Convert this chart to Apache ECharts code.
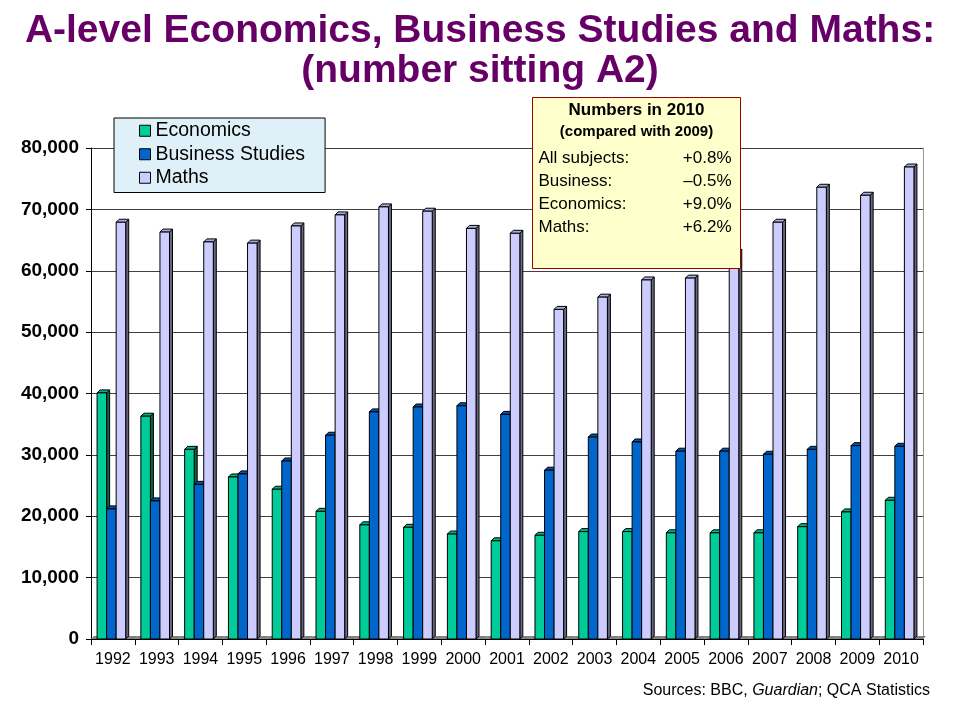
<!DOCTYPE html>
<html><head><meta charset="utf-8">
<script src="https://cdn.jsdelivr.net/npm/echarts@6/dist/echarts.min.js"></script>
<style>html,body{margin:0;padding:0;background:#fff}#c{width:960px;height:720px}</style>
</head><body><div id="c"></div>
<script>
const years = ['1992','1993','1994','1995','1996','1997','1998','1999','2000','2001','2002','2003','2004','2005','2006','2007','2008','2009','2010'];
const economics = [40100,36300,30900,26400,24400,20800,18600,18200,17100,16000,16900,17500,17500,17300,17300,17300,18300,20700,22600];
const business = [21200,22500,25200,26900,29000,33200,37000,37800,38000,36600,27500,32900,32100,30600,30600,30100,30900,31500,31400];
const maths = [67900,66300,64700,64500,67300,69100,70400,69700,66900,66100,53700,55700,58500,58800,63000,67900,73600,72300,76900];
const seriesNames = ['Economics','Business Studies','Maths'];
const boxTitle = 'Numbers in 2010';
const boxSub = '(compared with 2009)';
const boxLabels = ['All subjects:','Business:','Economics:','Maths:'];
const boxValues = ['+0.8%','\u20130.5%','+9.0%','+6.2%'];

const FONT = 'Liberation Sans, Arial, sans-serif';
const styles = [
  {face:'#00CC99', side:'#006644', top:'#00B386'},
  {face:'#0066CC', side:'#003366', top:'#0055AA'},
  {face:'#CCCCFF', side:'#666680', top:'#AAAADD'}
];

function make3D(idx, name, values, drawFloor) {
  const st = styles[idx];
  return {
    type: 'custom', name: name,
    itemStyle: {color: st.face},
    data: values.map((v, i) => [i, v]),
    encode: {x: 0, y: 1},
    renderItem: function (params, api) {
      const i = api.value(0), v = api.value(1);
      const band = api.size([1, 0])[0];
      const w = band * 0.218;
      const base = api.coord([i, 0]);
      const tp = api.coord([i, v]);
      const cx = base[0] - 1.5;
      const x0 = cx - 1.5 * w + idx * w, x1 = x0 + w;
      const yT = tp[1], yB = base[1];
      const d = 3;
      const ch = [];
      if (drawFloor) {
        const l = base[0] - band / 2, r = base[0] + band / 2;
        ch.push({type: 'polygon', silent: true,
          shape: {points: [[l, yB], [r, yB], [r + d, yB - d], [l + d, yB - d]]},
          style: {fill: '#808080'}});
      }
      ch.push({type: 'polygon', shape: {points: [[x1, yB], [x1 + d, yB - d], [x1 + d, yT - d], [x1, yT]]},
        style: {fill: st.side, stroke: '#000', lineWidth: 1}});
      ch.push({type: 'polygon', shape: {points: [[x0, yT], [x1, yT], [x1 + d, yT - d], [x0 + d, yT - d]]},
        style: {fill: st.top, stroke: '#000', lineWidth: 1}});
      ch.push({type: 'rect', shape: {x: x0, y: yT, width: w, height: yB - yT},
        style: {fill: st.face, stroke: '#000', lineWidth: 1}});
      return {type: 'group', children: ch};
    }
  };
}

const chart = echarts.init(document.getElementById('c'));
const boxLeft = 532, boxTop = 97;
const boxChildren = [
  {type: 'rect', z: 100, shape: {x: 0, y: 0, width: 208, height: 171},
   style: {fill: '#FFFFCC', stroke: '#990000', lineWidth: 1}},
  {type: 'text', z: 101, x: 104, y: 13, style: {text: boxTitle, font: 'bold 17px ' + FONT, fill: '#000', align: 'center', verticalAlign: 'middle'}},
  {type: 'text', z: 101, x: 104, y: 34, style: {text: boxSub, font: 'bold 15px ' + FONT, fill: '#000', align: 'center', verticalAlign: 'middle'}}
];
boxLabels.forEach((t, k) => {
  boxChildren.push({type: 'text', z: 101, x: 6, y: 61 + k * 23, style: {text: t, font: '17px ' + FONT, fill: '#000', align: 'left', verticalAlign: 'middle'}});
  boxChildren.push({type: 'text', z: 101, x: 199, y: 61 + k * 23, style: {text: boxValues[k], font: '17px ' + FONT, fill: '#000', align: 'right', verticalAlign: 'middle'}});
});

chart.setOption({
  animation: false,
  backgroundColor: '#fff',
  title: {
    text: 'A-level Economics, Business Studies and Maths:\n(number sitting A2)',
    left: 'center', top: 6,
    textStyle: {fontFamily: FONT, fontSize: 39, fontWeight: 'bold', color: '#660066', lineHeight: 40}
  },
  legend: {
    orient: 'vertical', left: 114, top: 118,
    backgroundColor: '#E0F0F8', borderColor: '#000', borderWidth: 1,
    padding: [1, 20, 3, 25], itemGap: 0, itemWidth: 11, itemHeight: 11, icon: 'rect',
    textStyle: {fontFamily: FONT, fontSize: 19.5, color: '#000', lineHeight: 23.5},
    data: seriesNames.map((n, k) => ({name: n, itemStyle: {color: styles[k].face, borderColor: '#000', borderWidth: 1}}))
  },
  grid: {left: 91, right: 37, top: 148, bottom: 81},
  xAxis: {
    type: 'category', data: years, boundaryGap: true,
    axisLine: {lineStyle: {color: '#000', width: 1}},
    axisTick: {show: true, length: 6, lineStyle: {color: '#000'}},
    axisLabel: {fontFamily: FONT, fontSize: 16, color: '#000', margin: 13, interval: 0}
  },
  yAxis: [{
    type: 'value', min: 0, max: 80000, interval: 10000,
    axisLine: {show: true, lineStyle: {color: '#000'}},
    axisTick: {show: true, length: 5, lineStyle: {color: '#000'}},
    axisLabel: {fontFamily: FONT, fontSize: 19, fontWeight: 'bold', color: '#000', margin: 12,
      formatter: v => v.toLocaleString('en-US')},
    splitLine: {show: true, lineStyle: {color: '#404040', width: 1}}
  }, {
    type: 'value', min: 0, max: 80000, interval: 10000, position: 'right',
    axisLine: {show: true, lineStyle: {color: '#999'}},
    axisTick: {show: false}, axisLabel: {show: false}, splitLine: {show: false}
  }],
  series: [
    make3D(0, seriesNames[0], economics, true),
    make3D(1, seriesNames[1], business, false),
    make3D(2, seriesNames[2], maths, false)
  ],
  graphic: [
    {type: 'group', z: 100, left: boxLeft, top: boxTop, children: boxChildren},
    {type: 'text', right: 30, top: 683,
     style: {text: '{n|Sources: BBC, }{i|Guardian}{n|; QCA Statistics}',
       rich: {n: {fontFamily: FONT, fontSize: 16, fill: '#000'}, i: {fontFamily: FONT, fontSize: 16, fontStyle: 'italic', fill: '#000'}}}}
  ]
});
</script></body></html>
